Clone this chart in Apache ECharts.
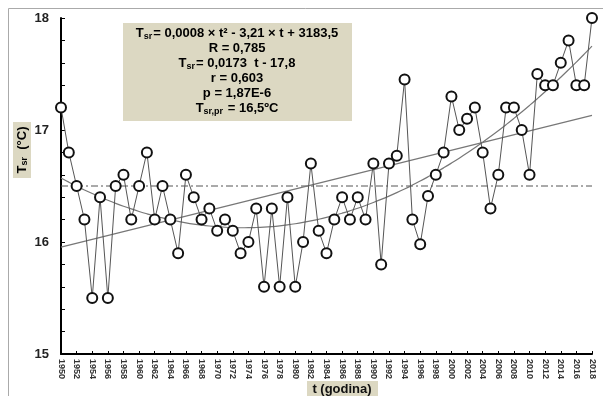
<!DOCTYPE html>
<html><head><meta charset="utf-8">
<script src="https://cdn.jsdelivr.net/npm/echarts@6/dist/echarts.min.js"></script>
<style>html,body{margin:0;padding:0;background:#fff}#c{width:603px;height:396px}</style>
</head><body><div id="c"></div>
<script>
const years = [];
for (let y = 1950; y <= 2018; y++) years.push(y);
const temps = [
 17.2,16.8,16.5,16.2,15.5,16.4,15.5,16.5,16.6,16.2,
 16.5,16.8,16.2,16.5,16.2,15.9,16.6,16.4,16.2,16.3,
 16.1,16.2,16.1,15.9,16.0,16.3,15.6,16.3,15.6,16.4,
 15.6,16.0,16.7,16.1,15.9,16.2,16.4,16.2,16.4,16.2,
 16.7,15.8,16.7,16.77,17.45,16.2,15.98,16.41,16.6,16.8,
 17.3,17.0,17.1,17.2,16.8,16.3,16.6,17.2,17.2,17.0,
 16.6,17.5,17.4,17.4,17.6,17.8,17.4,17.4,18.0
];
const meanValue = 16.5;
const annotationLines = [
 [['T','b'],['sr','s'],['= 0,0008 × t² - 3,21 × t + 3183,5','b']],
 [['R = 0,785','b']],
 [['T','b'],['sr','s'],['= 0,0173  t - 17,8','b']],
 [['r = 0,603','b']],
 [['p = 1,87E-6','b']],
 [['T','b'],['sr,pr','s'],[' = 16,5ºC','b']]
];

// least squares fits from the data
const n = years.length;
const c0 = 1984;
function fit(deg) {
  const m = deg + 1;
  const A = [], B = [];
  for (let i = 0; i < m; i++) { A.push(new Array(m).fill(0)); B.push(0); }
  for (let k = 0; k < n; k++) {
    const u = years[k] - c0;
    for (let i = 0; i < m; i++) {
      B[i] += Math.pow(u, i) * temps[k];
      for (let j = 0; j < m; j++) A[i][j] += Math.pow(u, i + j);
    }
  }
  for (let i = 0; i < m; i++) {
    let p = i;
    for (let r = i + 1; r < m; r++) if (Math.abs(A[r][i]) > Math.abs(A[p][i])) p = r;
    [A[i], A[p]] = [A[p], A[i]]; [B[i], B[p]] = [B[p], B[i]];
    for (let r = 0; r < m; r++) if (r !== i) {
      const f = A[r][i] / A[i][i];
      for (let j = i; j < m; j++) A[r][j] -= f * A[i][j];
      B[r] -= f * B[i];
    }
  }
  return B.map((b, i) => b / A[i][i]);
}
const lin = fit(1), quad = fit(2);
const linData = [years[0], years[n-1]].map(t => [t, lin[0] + lin[1]*(t-c0)]);
const quadData = years.map(t => { const u = t - c0; return [t, quad[0] + quad[1]*u + quad[2]*u*u]; });
const meanData = [[years[0], meanValue], [years[n-1], meanValue]];

const chart = echarts.init(document.getElementById('c'));
const FONT = 'Liberation Sans, Arial, sans-serif';
const rich = {
  b: {fontFamily: FONT, fontSize: 13, fontWeight: 'bold', color: '#111', lineHeight: 15},
  s: {fontFamily: FONT, fontSize: 9, fontWeight: 'bold', color: '#111', lineHeight: 15, padding: [6,1,0,0]}
};
const annot = annotationLines.map((parts, i) => ({
  type: 'text', z: 20, position: [237, 26 + i * 15],
  style: {
    text: parts.map(p => '{' + p[1] + '|' + p[0] + '}').join(''),
    rich: rich, textAlign: 'center', x: 0, y: 0
  }
}));

chart.setOption({
  animation: false,
  grid: {left: 61, right: 11, top: 18, bottom: 42, containLabel: false},
  xAxis: {
    type: 'value', min: 1950, max: 2018, interval: 2,
    axisLine: {lineStyle: {color: '#000', width: 2}},
    axisTick: {inside: true, length: 3, lineStyle: {color: '#000', width: 1}},
    splitLine: {show: false},
    axisLabel: {rotate: -90, fontSize: 9, fontWeight: 'bold', color: '#333', fontFamily: FONT, margin: 5,
      formatter: v => String(v), showMaxLabel: true, showMinLabel: true}
  },
  yAxis: {
    type: 'value', min: 15, max: 18, interval: 0.2,
    axisLine: {show: true, lineStyle: {color: '#000', width: 2}},
    axisTick: {inside: true, length: 4, lineStyle: {color: '#000', width: 1}},
    splitLine: {show: false},
    axisLabel: {fontSize: 13, fontWeight: 'bold', color: '#222', fontFamily: FONT, margin: 12,
      formatter: v => (Math.abs(v - Math.round(v)) < 1e-6 ? String(Math.round(v)) : '')}
  },
  series: [
    {type: 'line', data: meanData, symbol: 'none', z: 1,
      lineStyle: {color: '#555', width: 1, type: [7,3,2,3]}},
    {type: 'line', data: linData, symbol: 'none', z: 2,
      lineStyle: {color: '#777', width: 1.2}},
    {type: 'line', data: quadData, symbol: 'none', smooth: true, z: 2,
      lineStyle: {color: '#777', width: 1.2}},
    {type: 'line', data: years.map((y, i) => [y, temps[i]]), z: 5,
      symbol: 'circle', symbolSize: 10,
      lineStyle: {color: '#555', width: 1},
      itemStyle: {color: '#fff', borderColor: '#111', borderWidth: 2}}
  ],
  graphic: [
    {type: 'polyline', shape: {points: [[8.5, 396], [8.5, 8.5], [603, 8.5]]},
      style: {stroke: '#aaa', lineWidth: 1, fill: null}, z: 0},
    {type: 'rect', shape: {x: 123, y: 23, width: 229, height: 98},
      style: {fill: '#dcd8c2'}, z: 10},
    ...annot,
    {type: 'group', position: [22, 150], rotation: Math.PI / 2, z: 10, children: [
      {type: 'rect', shape: {x: -28, y: -9, width: 56, height: 18}, style: {fill: '#dcd8c2'}},
      {type: 'text', style: {text: '{b|T}{s|sr}{b|  (°C)}', rich: {
        b: {fontFamily: FONT, fontSize: 13, fontWeight: 'bold', color: '#111', lineHeight: 16},
        s: {fontFamily: FONT, fontSize: 9, fontWeight: 'bold', color: '#111', lineHeight: 16, padding: [6,0,0,0]}},
        textAlign: 'center', textVerticalAlign: 'middle', x: 0, y: 0}}
    ]},
    {type: 'rect', shape: {x: 307, y: 381, width: 71, height: 15}, style: {fill: '#dcd8c2'}, z: 10},
    {type: 'text', z: 11, style: {text: 't (godina)', x: 342, y: 389, textAlign: 'center', textVerticalAlign: 'middle',
      fontFamily: FONT, fontSize: 13, fontWeight: 'bold', fill: '#111'}}
  ]
});
</script></body></html>
